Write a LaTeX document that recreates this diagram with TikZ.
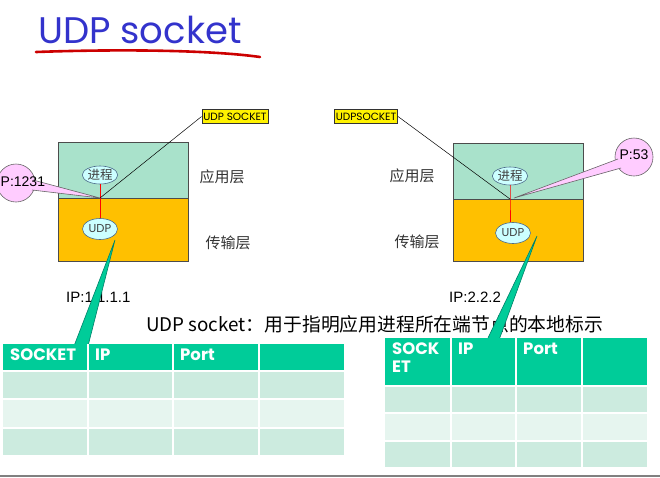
\documentclass[tikz,border=0pt]{standalone}
\usepackage{fontspec}
\setmainfont{Liberation Sans}
\newfontfamily\comic{Poppins}
\newfontfamily\cjk{Noto Sans CJK SC}
\usetikzlibrary{shapes.geometric}
\definecolor{titleblue}{HTML}{3333CC}
\definecolor{appgreen}{HTML}{A9E2CB}
\definecolor{tporange}{HTML}{FFC000}
\definecolor{ellfill}{HTML}{CCFFFF}
\definecolor{ellline}{HTML}{4A6A8A}
\definecolor{pinkfill}{HTML}{FFCCFF}
\definecolor{teal}{HTML}{00CC99}
\definecolor{tealdark}{HTML}{00806A}
\definecolor{rowA}{HTML}{CCEBDF}
\definecolor{rowB}{HTML}{E6F5EF}
\tikzset{
  layerbox/.style={draw=black!70, line width=0.6pt},
  proc/.style={ellipse, draw=ellline, fill=ellfill, line width=0.6pt, minimum width=34pt, minimum height=18pt, inner sep=0pt, font=\cjk\fontsize{12.5}{12.5}\selectfont, text=black!75},
  udpell/.style={proc, font=\comic\fontsize{11.5}{11.5}\selectfont, minimum width=35pt, minimum height=21pt},
  sockbox/.style={draw=black!80, fill=yellow, line width=0.6pt, inner xsep=1.5pt, inner ysep=3pt, font=\comic\fontsize{10.5}{10.5}\selectfont},
  layerlbl/.style={font=\cjk\fontsize{15}{15}\selectfont, text=black!80},
  iplbl/.style={font=\fontsize{15}{15}\selectfont},
  pcirc/.style={circle, fill=pinkfill, draw=black!60, line width=0.6pt, minimum size=38pt, inner sep=0pt},
  ptext/.style={font=\fontsize{14}{14}\selectfont, inner sep=0pt},
  hdr/.style={font=\comic\bfseries\fontsize{16.5}{18}\selectfont, text=white, anchor=north west, inner sep=0pt, align=left},
  redlink/.style={red, line width=1pt},
  sockline/.style={black, line width=0.5pt},
  tealwedge/.style={fill=teal, draw=tealdark, line width=0.6pt}
}
\begin{document}
\begin{tikzpicture}[x=1pt, y=-1pt]
\useasboundingbox (0,0) rectangle (660,477);
% title
\node[anchor=base west, inner sep=0pt, text=titleblue, font=\comic\fontsize{37}{37}\selectfont] (title) at (38,43) {UDP socket};
\draw[red!80!black, line width=2.6pt, line cap=round] (36,52) .. controls (120,49) and (210,50) .. (260,57);

% ---------- left host ----------
\fill[appgreen] (58,142) rectangle (188,198);
\fill[tporange] (58,198) rectangle (188,261);
\draw[layerbox] (58,142) rectangle (188,261);
\draw[layerbox] (58,198) -- (188,198);
\coordinate (j1) at (100,198);
\node[proc] (proc1) at (100,175) {进程};
\node[udpell] (udp1) at (100,229) {UDP};
\draw[redlink] (proc1.south) -- (udp1.north);
\node[sockbox] (sock1) at (235,116.5) {UDP SOCKET};
\draw[sockline] (sock1.west) -- (j1);
% pink callout P:1231
\node[pcirc] (p1) at (16,183) {};
\fill[pinkfill] (33,180) -- (j1) -- (32,190) -- cycle;
\draw[black!60, line width=0.6pt] (33,180) -- (j1) -- (32,190);
\node[ptext, anchor=west] (p1t) at (0.5,182) {P:1231};
\node[layerlbl, anchor=west] (app1) at (196,177) {应用层};
\node[layerlbl, anchor=west] (tp1) at (202,243) {传输层};

% ---------- right host ----------
\fill[appgreen] (453,143) rectangle (583,199);
\fill[tporange] (453,199) rectangle (583,261);
\draw[layerbox] (453,143) rectangle (583,261);
\draw[layerbox] (453,199) -- (583,199);
\coordinate (j2) at (510,199);
\coordinate (j2p) at (514,198);
\node[proc] (proc2) at (510,176) {进程};
\node[udpell] (udp2) at (513,233) {UDP};
\draw[redlink] (proc2.south) -- (j2) -- ([xshift=-3pt]udp2.north);
\node[sockbox] (sock2) at (366,116.5) {UDPSOCKET};
\draw[sockline] (sock2.east) -- (j2);
\node[pcirc] (p2) at (634,157) {};
\fill[pinkfill] (620,158) -- (j2p) -- (622,168) -- cycle;
\draw[black!60, line width=0.6pt] (618,159) -- (j2p) -- (621,168);
\node[ptext] (p2t) at (634,155) {P:53};
\node[layerlbl, anchor=west] (app2) at (386,176) {应用层};
\node[layerlbl, anchor=west] (tp2) at (391,242) {传输层};

% ---------- teal callouts and labels ----------
\coordinate (w1) at (115,240);
\coordinate (w2) at (537,236);
\node[iplbl, anchor=base west, inner sep=0pt] (ip1) at (66,302) {IP:1.1.1.1};
\node[iplbl, anchor=base west, inner sep=0pt] (ip2) at (449,302) {IP:2.2.2};
\draw[tealwedge] (w1) -- (88,346) -- (74,346) -- cycle;
\node[anchor=base west, inner sep=0pt, font=\cjk\fontsize{18.8}{18.8}\selectfont] (desc) at (146,331) {UDP socket：用于指明应用进程所在端节点的本地标示};
\draw[tealwedge] (w2) -- (499,340) -- (487,340) -- cycle;

% ---------- left table ----------
\fill[teal] (3,344) rectangle (344,371);
\fill[rowA] (3,371) rectangle (344,399);
\fill[rowB] (3,399) rectangle (344,428);
\fill[rowA] (3,428) rectangle (344,455);
\foreach \y in {371,399,428} \draw[white, line width=1.2pt] (3,\y) -- (344,\y);
\foreach \x in {88,173,259} \draw[white, line width=1.2pt] (\x,344) -- (\x,455);
\node[hdr] (lh1) at (10,349) {SOCKET};
\node[hdr] (lh2) at (95,349) {IP};
\node[hdr] (lh3) at (180,349) {Port};

% ---------- right table ----------
\fill[teal] (385,338) rectangle (647,386);
\fill[rowA] (385,386) rectangle (647,413);
\fill[rowB] (385,413) rectangle (647,441);
\fill[rowA] (385,441) rectangle (647,467);
\foreach \y in {386,413,441} \draw[white, line width=1.2pt] (385,\y) -- (647,\y);
\foreach \x in {451,516,582} \draw[white, line width=1.2pt] (\x,338) -- (\x,467);
\node[hdr] (rh1) at (392,343) {SOCK\\ET};
\node[hdr] (rh2) at (458,343) {IP};
\node[hdr] (rh3) at (523,343) {Port};

% bottom rule
\draw[black!50, line width=1.2pt] (0,476) -- (660,476);
\end{tikzpicture}
\end{document}
